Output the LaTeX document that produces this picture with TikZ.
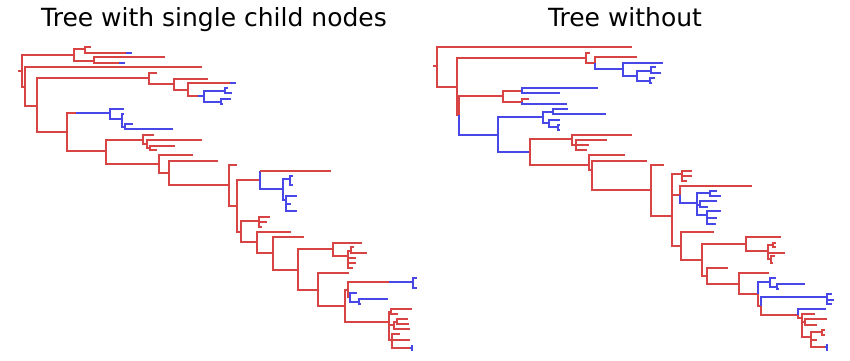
\documentclass[tikz,border=0pt]{standalone}
\usepackage{fontspec}
\setmainfont{DejaVu Sans}
\definecolor{redbranch}{RGB}{216,68,68}
\definecolor{bluebranch}{RGB}{72,72,232}
\tikzset{
  rb/.style={draw=redbranch, line width=1.3pt},
  bb/.style={draw=bluebranch, line width=1.3pt},
  treetitle/.style={anchor=base, inner sep=0pt, font=\fontsize{25}{30}\selectfont}
}
\begin{document}
\begin{tikzpicture}[x=1pt, y=-1pt]
    \useasboundingbox (0,0) rectangle (850,360);

    \node[treetitle] (title_l) at (214,26) {Tree with single child nodes};
    \node[treetitle] (title_r) at (625,26) {Tree without};

    % left tree
    \draw[rb] (18,71) -- (22,71);
    \draw[rb] (22,71) |- (74,55);
    \draw[rb] (74,55) |- (85,49);
    \draw[rb] (85,49) |- (91,47);
    \draw[rb] (85,49) |- (126,53);  \draw[bb] (126,53) -- (132,53);
    \draw[rb] (74,55) |- (94,61);
    \draw[rb] (94,61) |- (165,57);
    \draw[rb] (94,61) |- (119,63);  \draw[bb] (119,63) -- (125,63);
    \draw[rb] (22,71) |- (25,87);
    \draw[rb] (25,87) |- (202,67);
    \draw[rb] (25,87) |- (37,106);
    \draw[rb] (37,106) |- (149,78);
    \draw[rb] (149,78) |- (157,73);
    \draw[rb] (149,78) |- (174,84);
    \draw[rb] (174,84) |- (208,79);
    \draw[rb] (174,84) |- (188,90);
    \draw[rb] (188,90) |- (230,83);  \draw[bb] (230,83) -- (236,83);
    \draw[rb] (188,90) |- (198,96);  \draw[bb] (198,96) -- (204,96);
    \draw[bb] (204,96) |- (225,91);
    \draw[bb] (225,91) |- (228,88);
    \draw[bb] (225,91) |- (232,93);
    \draw[bb] (204,96) |- (221,102);
    \draw[bb] (221,102) |- (231,99);
    \draw[bb] (221,102) |- (223,104);
    \draw[rb] (37,106) |- (67,132);
    \draw[rb] (67,132) |- (76,113);  \draw[bb] (76,113) -- (110,113);
    \draw[bb] (110,113) |- (124,109);
    \draw[bb] (110,113) |- (122,119);
    \draw[bb] (122,119) |- (124,114);
    \draw[bb] (122,119) |- (125,127);
    \draw[bb] (125,127) |- (133,124);
    \draw[bb] (125,127) |- (173,129);
    \draw[rb] (67,132) |- (106,151);
    \draw[rb] (106,151) |- (143,140);
    \draw[rb] (143,140) |- (154,135);
    \draw[rb] (143,140) |- (147,144);
    \draw[rb] (147,144) |- (202,140);
    \draw[rb] (147,144) |- (150,148);
    \draw[rb] (150,148) |- (175,146);
    \draw[rb] (150,148) |- (157,150);
    \draw[rb] (106,151) |- (159,164);
    \draw[rb] (159,164) |- (193,155);
    \draw[rb] (159,164) |- (169,173);
    \draw[rb] (169,173) |- (218,161);
    \draw[rb] (169,173) |- (229,185);
    \draw[rb] (229,185) |- (237,165);
    \draw[rb] (229,185) |- (237,206);
    \draw[rb] (237,206) |- (260,180);
    \draw[bb] (260,180) -- (260,171);  \draw[rb] (260,171) -- (331,171);
    \draw[bb] (260,180) |- (283,189);
    \draw[bb] (283,189) |- (290,179);
    \draw[bb] (290,179) |- (293,176);
    \draw[bb] (290,179) |- (293,185);
    \draw[bb] (283,189) |- (286,200);
    \draw[bb] (286,200) |- (297,196);
    \draw[bb] (286,200) |- (291,204);
    \draw[bb] (286,200) |- (297,211);
    \draw[rb] (237,206) |- (241,232);
    \draw[rb] (241,232) |- (259,221);
    \draw[rb] (259,221) |- (270,217);
    \draw[rb] (259,221) |- (267,222);
    \draw[rb] (259,221) |- (262,227);
    \draw[rb] (241,232) |- (257,242);
    \draw[rb] (257,242) |- (291,232);
    \draw[rb] (257,242) |- (273,253);
    \draw[rb] (273,253) |- (304,237);
    \draw[rb] (273,253) |- (298,270);
    \draw[rb] (298,270) |- (333,249);
    \draw[rb] (333,249) |- (362,243);
    \draw[rb] (333,249) |- (348,256);
    \draw[rb] (348,256) |- (351,251);
    \draw[rb] (351,251) |- (354,247);
    \draw[rb] (351,251) |- (367,253);
    \draw[rb] (348,256) |- (356,258);
    \draw[rb] (348,256) |- (356,263);
    \draw[rb] (348,256) |- (353,268);
    \draw[rb] (298,270) |- (318,290);
    \draw[rb] (318,290) |- (349,273);
    \draw[rb] (318,290) |- (345,306);
    \draw[rb] (345,306) |- (348,290);
    \draw[rb] (348,290) |- (389,282);  \draw[bb] (389,282) -- (413,282);
    \draw[bb] (413,283) |- (417,278);
    \draw[bb] (413,283) |- (417,288);
    \draw[rb] (348,290) |- (350,297);
    \draw[bb] (350,297) |- (357,293);
    \draw[bb] (350,297) |- (359,302);
    \draw[bb] (359,302) |- (388,299);
    \draw[bb] (359,302) |- (361,304);
    \draw[rb] (345,306) |- (389,322);
    \draw[rb] (389,322) |- (391,312);
    \draw[rb] (391,312) |- (412,309);
    \draw[rb] (391,312) |- (398,314);
    \draw[rb] (389,322) |- (394,325);
    \draw[rb] (394,325) |- (397,322);
    \draw[rb] (397,322) |- (408,319);
    \draw[rb] (397,322) |- (409,324);
    \draw[rb] (394,325) |- (410,329);
    \draw[rb] (389,322) |- (392,340);
    \draw[rb] (392,340) |- (400,334);
    \draw[rb] (392,340) |- (410,340);
    \draw[rb] (392,340) |- (410,348);  \draw[bb] (410,348) -- (412,348);
    \draw[bb] (412,345) -- (412,351);

    % right tree
    \draw[rb] (433,66) -- (437,66);
    \draw[rb] (437,66) |- (632,47);
    \draw[rb] (437,66) |- (457,87);
    \draw[rb] (457,87) |- (586,58);
    \draw[rb] (586,58) |- (590,53);
    \draw[rb] (586,58) |- (595,63);
    \draw[rb] (595,63) |- (637,57);
    \draw[bb] (595,63) |- (623,69);
    \draw[bb] (623,69) |- (663,63);
    \draw[bb] (623,69) |- (637,76);
    \draw[bb] (637,76) |- (651,71);
    \draw[bb] (651,71) |- (656,67);
    \draw[bb] (651,71) |- (661,73);
    \draw[bb] (637,76) |- (650,81);
    \draw[bb] (650,81) |- (655,78);
    \draw[bb] (650,81) |- (652,83);
    \draw[rb] (457,87) |- (459,115);
    \draw[rb] (459,115) |- (503,96);
    \draw[rb] (503,96) |- (522,91);
    \draw[bb] (522,91) |- (598,88);
    \draw[bb] (522,91) |- (560,93);
    \draw[rb] (503,96) |- (522,102);
    \draw[rb] (522,102) |- (529,99);
    \draw[bb] (522,102) |- (567,104);
    \draw[bb] (459,115) |- (498,135);
    \draw[bb] (498,135) |- (543,117);
    \draw[bb] (543,117) |- (553,112);
    \draw[bb] (553,112) |- (568,109);
    \draw[bb] (553,112) |- (606,114);
    \draw[bb] (543,117) |- (549,123);
    \draw[bb] (549,123) |- (560,120);
    \draw[bb] (549,123) |- (558,127);
    \draw[bb] (558,127) |- (560,125);
    \draw[bb] (558,127) |- (560,130);
    \draw[bb] (498,135) |- (530,152);
    \draw[rb] (530,152) |- (572,139);
    \draw[rb] (572,139) |- (632,135);
    \draw[rb] (572,139) |- (576,145);
    \draw[rb] (576,145) |- (607,140);
    \draw[rb] (576,145) -- (589,145);
    \draw[rb] (576,145) |- (587,150);
    \draw[rb] (530,152) |- (589,165);
    \draw[rb] (589,165) |- (625,155);
    \draw[rb] (589,165) |- (592,170);
    \draw[rb] (592,170) |- (647,161);
    \draw[rb] (592,170) |- (651,190);
    \draw[rb] (651,190) |- (664,165);
    \draw[rb] (651,190) |- (672,216);
    \draw[rb] (672,216) |- (682,174);
    \draw[rb] (682,174) |- (692,171);
    \draw[rb] (682,174) |- (692,176);
    \draw[rb] (682,174) |- (687,181);
    \draw[rb] (672,216) |- (680,195);
    \draw[rb] (680,195) |- (752,186);
    \draw[bb] (680,195) |- (697,203);
    \draw[bb] (697,203) |- (710,193);
    \draw[bb] (710,193) |- (717,191);
    \draw[bb] (710,193) |- (721,196);
    \draw[bb] (697,203) |- (700,205);
    \draw[bb] (700,205) |- (717,201);
    \draw[bb] (700,205) |- (708,207);
    \draw[bb] (697,203) |- (707,215);
    \draw[bb] (707,215) |- (721,211);
    \draw[bb] (707,215) |- (717,218);
    \draw[bb] (707,215) |- (716,224);
    \draw[rb] (672,216) |- (681,246);
    \draw[rb] (681,246) |- (714,232);
    \draw[rb] (681,246) |- (702,260);
    \draw[rb] (702,260) |- (746,244);
    \draw[rb] (746,244) |- (781,237);
    \draw[rb] (746,244) |- (768,251);
    \draw[rb] (768,251) |- (773,245);
    \draw[rb] (773,245) |- (776,243);
    \draw[rb] (773,245) |- (776,247);
    \draw[rb] (768,251) |- (785,253);
    \draw[rb] (768,251) |- (771,259);
    \draw[rb] (771,259) |- (775,256);
    \draw[rb] (771,259) |- (773,263);
    \draw[rb] (702,260) |- (707,276);
    \draw[rb] (707,276) |- (728,268);
    \draw[rb] (707,276) |- (739,284);
    \draw[rb] (739,284) |- (769,273);
    \draw[rb] (739,284) |- (758,294);
    \draw[bb] (758,294) |- (770,282);
    \draw[bb] (770,282) |- (776,278);
    \draw[bb] (770,282) |- (777,287);
    \draw[bb] (777,287) |- (805,284);
    \draw[bb] (777,287) |- (779,289);
    \draw[rb] (758,294) |- (761,306);
    \draw[bb] (761,306) |- (827,297);
    \draw[bb] (827,299) |- (832,294);
    \draw[bb] (827,299) |- (834,300);
    \draw[bb] (827,299) |- (832,304);
    \draw[rb] (761,306) |- (798,315);
    \draw[bb] (798,315) |- (826,309);
    \draw[rb] (798,315) |- (802,318);
    \draw[rb] (802,318) |- (815,314);
    \draw[rb] (802,318) |- (805,322);
    \draw[rb] (805,322) |- (827,319);
    \draw[rb] (805,322) |- (817,325);
    \draw[rb] (802,318) |- (811,337);
    \draw[rb] (811,337) |- (822,332);
    \draw[rb] (822,332) |- (825,330);
    \draw[rb] (822,332) |- (825,335);
    \draw[rb] (811,337) |- (817,340);
    \draw[rb] (811,337) |- (825,347);  \draw[bb] (825,347) -- (827,347);
    \draw[bb] (827,344) -- (827,351);
\end{tikzpicture}
\end{document}
